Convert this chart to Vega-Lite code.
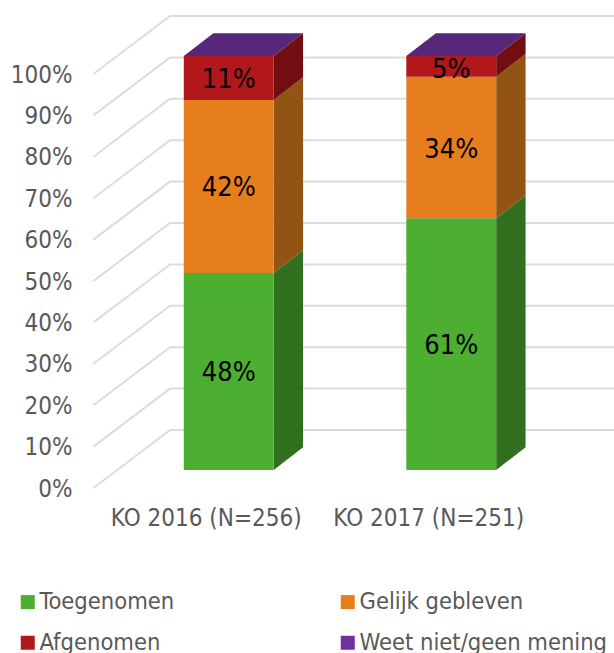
{
"$schema":"https://vega.github.io/schema/vega-lite/v6.json",
"width":534,"height":500,
"autosize":"none",
"padding":{"left":80,"top":0,"right":0,"bottom":153},
"background":"white",
"config":{"view":{"stroke":null},"font":"DejaVu Sans Condensed"},
"datasets":{
"grid":[
{"g":0,"x":0.392,"y":-4.35},{"g":0,"x":0.736,"y":9.66},{"g":0,"x":2.7315,"y":9.66},
{"g":10,"x":0.392,"y":5.65},{"g":10,"x":0.736,"y":19.66},{"g":10,"x":2.7315,"y":19.66},
{"g":20,"x":0.392,"y":15.65},{"g":20,"x":0.736,"y":29.66},{"g":20,"x":2.7315,"y":29.66},
{"g":30,"x":0.392,"y":25.65},{"g":30,"x":0.736,"y":39.66},{"g":30,"x":2.7315,"y":39.66},
{"g":40,"x":0.392,"y":35.65},{"g":40,"x":0.736,"y":49.66},{"g":40,"x":2.7315,"y":49.66},
{"g":50,"x":0.392,"y":45.65},{"g":50,"x":0.736,"y":59.66},{"g":50,"x":2.7315,"y":59.66},
{"g":60,"x":0.392,"y":55.65},{"g":60,"x":0.736,"y":69.66},{"g":60,"x":2.7315,"y":69.66},
{"g":70,"x":0.392,"y":65.65},{"g":70,"x":0.736,"y":79.66},{"g":70,"x":2.7315,"y":79.66},
{"g":80,"x":0.392,"y":75.65},{"g":80,"x":0.736,"y":89.66},{"g":80,"x":2.7315,"y":89.66},
{"g":90,"x":0.392,"y":85.65},{"g":90,"x":0.736,"y":99.66},{"g":90,"x":2.7315,"y":99.66},
{"g":100,"x":0.392,"y":95.65},{"g":100,"x":0.736,"y":109.66},{"g":100,"x":2.7315,"y":109.66}
],
"front":[
{"bar":"KO 2016","series":"Toegenomen","x":0.798,"x2":1.202,"y":47.6,"y2":0,"mid":23.8,"label":"48%","c":1},
{"bar":"KO 2016","series":"Gelijk gebleven","x":0.798,"x2":1.202,"y":89.4,"y2":47.6,"mid":68.5,"label":"42%","c":1},
{"bar":"KO 2016","series":"Afgenomen","x":0.798,"x2":1.202,"y":100,"y2":89.4,"mid":94.7,"label":"11%","c":1},
{"bar":"KO 2016","series":"Weet niet/geen mening","x":0.798,"x2":1.202,"y":100,"y2":100},
{"bar":"KO 2017","series":"Toegenomen","x":1.798,"x2":2.202,"y":60.8,"y2":0,"mid":30.4,"label":"61%","c":2},
{"bar":"KO 2017","series":"Gelijk gebleven","x":1.798,"x2":2.202,"y":95,"y2":60.8,"mid":77.9,"label":"34%","c":2},
{"bar":"KO 2017","series":"Afgenomen","x":1.798,"x2":2.202,"y":100,"y2":95,"mid":97.2,"label":"5%","c":2},
{"bar":"KO 2017","series":"Weet niet/geen mening","x":1.798,"x2":2.202,"y":100,"y2":100}
],
"side":[
{"bar":"KO 2016","series":"Toegenomen","x":1.202,"y":47.6,"y2":0},{"bar":"KO 2016","series":"Toegenomen","x":1.334,"y":53.08,"y2":5.48},
{"bar":"KO 2016","series":"Gelijk gebleven","x":1.202,"y":89.4,"y2":47.6},{"bar":"KO 2016","series":"Gelijk gebleven","x":1.334,"y":94.88,"y2":53.08},
{"bar":"KO 2016","series":"Afgenomen","x":1.202,"y":100,"y2":89.4},{"bar":"KO 2016","series":"Afgenomen","x":1.334,"y":105.48,"y2":94.88},
{"bar":"KO 2017","series":"Toegenomen","x":2.202,"y":60.8,"y2":0},{"bar":"KO 2017","series":"Toegenomen","x":2.334,"y":66.28,"y2":5.48},
{"bar":"KO 2017","series":"Gelijk gebleven","x":2.202,"y":95,"y2":60.8},{"bar":"KO 2017","series":"Gelijk gebleven","x":2.334,"y":100.48,"y2":66.28},
{"bar":"KO 2017","series":"Afgenomen","x":2.202,"y":100,"y2":95},{"bar":"KO 2017","series":"Afgenomen","x":2.334,"y":105.48,"y2":100.48}
],
"top":[
{"bar":"KO 2016","x":0.798,"y":100,"y2":100},{"bar":"KO 2016","x":0.931,"y":105.48,"y2":100},{"bar":"KO 2016","x":1.202,"y":105.48,"y2":100},{"bar":"KO 2016","x":1.334,"y":105.48,"y2":105.48},
{"bar":"KO 2017","x":1.798,"y":100,"y2":100},{"bar":"KO 2017","x":1.931,"y":105.48,"y2":100},{"bar":"KO 2017","x":2.202,"y":105.48,"y2":100},{"bar":"KO 2017","x":2.334,"y":105.48,"y2":105.48}
]
},
"resolve":{"scale":{"color":"independent"}},
"layer":[
{"data":{"name":"grid"},
 "mark":{"type":"line","color":"#dcdcdc","strokeWidth":2,"clip":false},
 "encoding":{
  "x":{"field":"x","type":"quantitative","sort":null,"scale":{"domain":[0.3315,2.7315],"nice":false,"zero":false},
   "axis":{"title":null,"values":[1,2],"grid":false,"domain":false,"ticks":false,"labelFontSize":24,"labelColor":"#595959","labelPadding":6,"labelOffset":-23,"labelLimit":300,"labelExpr":"datum.value==1?'KO 2016 (N=256)':'KO 2017 (N=251)'","labelFlush":false,"labelOverlap":false}},
  "y":{"field":"y","type":"quantitative","scale":{"domain":[-7.246,113.53],"nice":false,"zero":false},
   "axis":{"title":null,"values":[0,10,20,30,40,50,60,70,80,90,100],"grid":false,"domain":false,"ticks":false,"labelFontSize":24,"labelColor":"#595959","labelPadding":8,"labelOffset":19,"labelExpr":"datum.value+'%'","labelOverlap":false}},
  "detail":{"field":"g"}
 }},
{"data":{"name":"top"},
 "mark":{"type":"area","color":"#57287A"},
 "encoding":{"x":{"field":"x","type":"quantitative"},"y":{"field":"y","type":"quantitative","stack":null},"y2":{"field":"y2"},"detail":{"field":"bar"}}},
{"data":{"name":"side"},
 "mark":{"type":"area"},
 "encoding":{"x":{"field":"x","type":"quantitative"},"y":{"field":"y","type":"quantitative","stack":null},"y2":{"field":"y2"},"detail":{"field":"bar"},
  "color":{"field":"series","type":"nominal","legend":null,"scale":{"domain":["Toegenomen","Gelijk gebleven","Afgenomen"],"range":["#31701F","#915413","#720D11"]}}}},
{"data":{"name":"front"},
 "mark":{"type":"rect"},
 "encoding":{"x":{"field":"x","type":"quantitative"},"x2":{"field":"x2"},"y":{"field":"y","type":"quantitative","stack":null},"y2":{"field":"y2"},
  "color":{"field":"series","type":"nominal","scale":{"domain":["Toegenomen","Afgenomen","Gelijk gebleven","Weet niet/geen mening"],"range":["#4CAF32","#B2171B","#E67E1E","#7030A0"]},
   "legend":{"title":null,"orient":"none","legendX":-64,"legendY":590,"columns":2,"symbolType":"square","symbolSize":196,"symbolStrokeWidth":0,"labelFontSize":23.5,"labelColor":"#595959","labelOffset":0,"rowPadding":16,"columnPadding":161,"gridAlign":"each","labelLimit":300}}}},
{"data":{"name":"front"},
 "transform":[{"filter":"isValid(datum.label)"}],
 "mark":{"type":"text","fontSize":27,"dy":2,"color":"#000000"},
 "encoding":{"x":{"field":"c","type":"quantitative"},"y":{"field":"mid","type":"quantitative"},"text":{"field":"label"}}}
]
}
